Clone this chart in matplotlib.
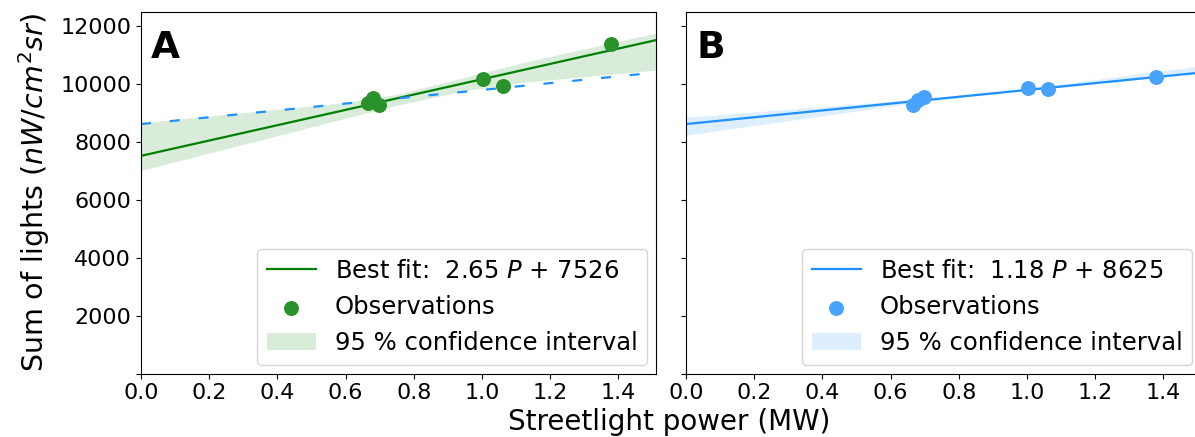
import numpy as np
import matplotlib
matplotlib.use('Agg')
import matplotlib.pyplot as plt

# streetlight power (MW) of the observations
power = [0.665, 0.679, 0.698, 1.004, 1.060, 1.377]
# sum of lights, panel A and panel B
lights_a = [9365, 9520, 9270, 10200, 9930, 11390]
lights_b = [9272, 9455, 9572, 9861, 9850, 10242]

# fit coefficients (slope per MW, intercept)
fit_a = (2650, 7526)
fit_b = (1180, 8625)
fit_labels = ['Best fit:  2.65 $P$ + 7526', 'Best fit:  1.18 $P$ + 8625']

# 95 % confidence band edges
band_x_a = [0.0, 0.575, 0.75, 0.945, 1.13, 1.51]
band_lo_a = [7020, 8750, 9270, 9770, 10080, 10490]
band_hi_a = [8670, 9340, 9650, 10230, 10780, 11770]
band_x_b = [0.0, 0.7, 1.0, 1.51]
band_lo_b = [8240, 9410, 9790, 10375]
band_hi_b = [8860, 9500, 9860, 10640]

plt.rcParams['font.family'] = 'DejaVu Sans'

fig = plt.figure(figsize=(11.95, 4.37), dpi=100)
ax1 = fig.add_axes([141/1195, 1 - 373.5/437, 515/1195, 361.5/437])
ax2 = fig.add_axes([686/1195, 1 - 373.5/437, 515/1195, 361.5/437])

xs = np.array([0.0, 1.51])

def panel(ax, lights, fit, label, bx, blo, bhi, line_col, dot_col, letter):
    ax.fill_between(bx, blo, bhi, color=line_col, alpha=0.15, lw=0,
                    label='95 % confidence interval')
    ax.plot(xs, fit[0]*xs + fit[1], color=line_col, lw=1.6, label=label)
    ax.scatter(power, lights, s=95, color=dot_col, label='Observations', zorder=3)
    ax.text(0.02, 0.95, letter, transform=ax.transAxes, fontsize=27,
            fontweight='bold', va='top', ha='left')
    ax.set_xlim(0, 1.51)
    ax.set_ylim(0, 12500)
    ax.set_xticks(np.arange(0, 1.41, 0.2))
    ax.set_yticks([0, 2000, 4000, 6000, 8000, 10000, 12000])
    ax.tick_params(labelsize=16)
    h, l = ax.get_legend_handles_labels()
    order = [1, 2, 0]
    ax.legend([h[i] for i in order], [l[i] for i in order], loc='lower right',
              fontsize=17.5, borderaxespad=0.35)

panel(ax1, lights_a, fit_a, fit_labels[0], band_x_a, band_lo_a, band_hi_a,
      'green', '#2a922a', 'A')
ax1.plot(xs, fit_b[0]*xs + fit_b[1], color='dodgerblue', lw=1.6, ls='--',
         dashes=(4.5, 8.5), zorder=2)
panel(ax2, lights_b, fit_b, fit_labels[1], band_x_b, band_lo_b, band_hi_b,
      'dodgerblue', '#47a3ff', 'B')

ax1.set_yticklabels(['', '2000', '4000', '6000', '8000', '10000', '12000'])
ax2.set_yticklabels([])
ax1.set_ylabel('Sum of lights ($nW/cm^2sr$)', fontsize=20.5, labelpad=6)
fig.text(0.56, 0.035, 'Streetlight power (MW)', fontsize=20, ha='center', va='center')

fig.savefig('out.png', dpi=100)
